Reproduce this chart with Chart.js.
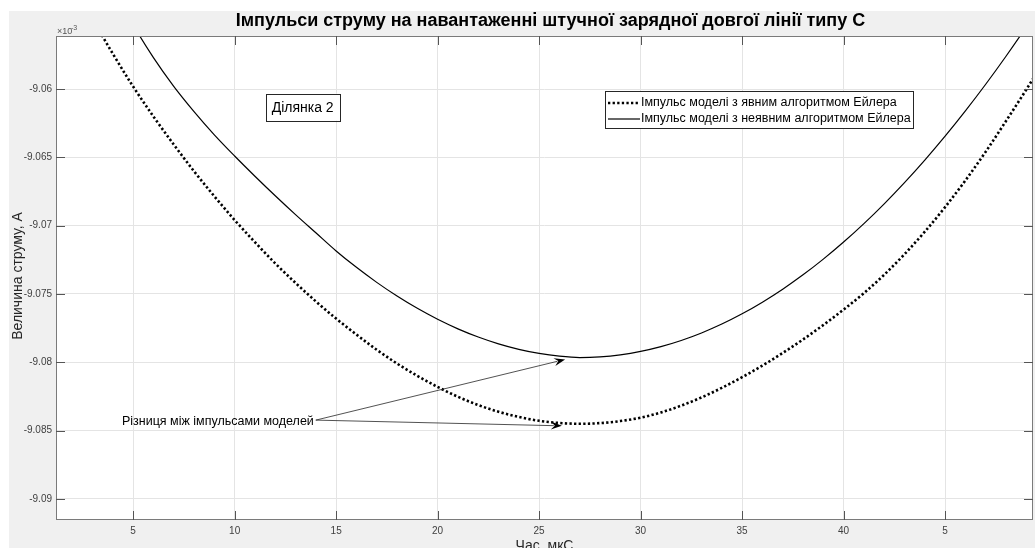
<!DOCTYPE html>
<html><head><meta charset="utf-8">
<script src="https://cdn.jsdelivr.net/npm/chart.js@4.4.1/dist/chart.umd.min.js"></script>
<style>html,body{margin:0;padding:0;background:#fff;overflow:hidden}#wrap{width:1035px;height:548px;position:relative}</style>
</head><body><div id="wrap"><canvas id="c" width="1035" height="548"></canvas></div>
<script>
const chartTitle = 'Імпульси струму на навантаженні штучної зарядної довгої лінії типу С';
const xAxisTitle = 'Час, мкС';
const yAxisTitle = 'Величина струму, А';
const yExponent = '-3';
const seriesNames = ['Імпульс моделі з явним алгоритмом Ейлера', 'Імпульс моделі з неявним алгоритмом Ейлера'];
const sectionLabel = 'Ділянка 2';
const diffLabel = 'Різниця між імпульсами моделей';

const timeUs = [3,4,5,6,7,8,9,10,11,12,13,14,15,16,17,18,19,20,21,22,23,24,25,26,27,28,29,30,31,32,33,34,35,36,37,38,39,40,41,42,43,44,45,46,47,48,49,50];
const explicitEuler = [-9.05489,-9.05742,-9.05982,-9.06201,-9.06406,-9.06602,-9.06785,-9.06959,-9.07121,-9.07276,-9.07419,-9.07554,-9.0768,-9.07797,-9.07908,-9.08009,-9.08099,-9.0818,-9.08252,-9.08313,-9.08362,-9.084,-9.08428,-9.08444,-9.0845,-9.08445,-9.0843,-9.08405,-9.08367,-9.08317,-9.08257,-9.08187,-9.08109,-9.08024,-9.07932,-9.07833,-9.07727,-9.07614,-9.07494,-9.07359,-9.07209,-9.07044,-9.06864,-9.06669,-9.06459,-9.06234,-9.06004,-9.05764];
const implicitEuler = [-9.0493,-9.0525,-9.0553,-9.0577,-9.0598,-9.06165,-9.06335,-9.0649,-9.06638,-9.06781,-9.06919,-9.07052,-9.07185,-9.07305,-9.07415,-9.07515,-9.07605,-9.07685,-9.07755,-9.07815,-9.07865,-9.07905,-9.07935,-9.07955,-9.07965,-9.0796,-9.07945,-9.0792,-9.07885,-9.0784,-9.07785,-9.0772,-9.07645,-9.0756,-9.07465,-9.0736,-9.07245,-9.0712,-9.06985,-9.0684,-9.06685,-9.0652,-9.06345,-9.0616,-9.05965,-9.0576,-9.05545,-9.0532];

const xTickValues = [5,10,15,20,25,30,35,40,45];
const xTickLabels = ['5','10','15','20','25','30','35','40','5'];
const yTickValues = [-9.09,-9.085,-9.08,-9.075,-9.07,-9.065,-9.06];
const yTickLabels = ['-9.09','-9.085','-9.08','-9.075','-9.07','-9.065','-9.06'];
const xRange = [1.2, 49.33];
const yRange = [-9.09154, -9.05612];

// annotation anchors (data coordinates)
const sectionLabelAt = [13.35, -9.06133];
const diffTextEnd = [13.95, -9.08423];
const arrowTargets = [[26.28, -9.07979], [26.12, -9.08465]];

const FONT = '"Liberation Sans", Arial, Helvetica, sans-serif';
const AX = '#262626';

function pts(xs, ys){ return xs.map((x,i)=>({x:x, y:ys[i]})); }

const decor = {
  id:'decor',
  beforeDraw(chart){
    const c = chart.ctx, ca = chart.chartArea;
    c.save();
    c.fillStyle = '#ffffff'; c.fillRect(0,0,chart.width,chart.height);
    c.fillStyle = '#f0f0f0'; c.fillRect(9,11,chart.width-9,chart.height-11);
    c.fillStyle = '#ffffff'; c.fillRect(ca.left,ca.top,ca.right-ca.left,ca.bottom-ca.top);
    c.restore();
  },
  afterDraw(chart){
    const c = chart.ctx, ca = chart.chartArea;
    const xs = chart.scales.x, ys = chart.scales.y;
    c.save();
    c.strokeStyle = '#7a7a7a'; c.lineWidth = 1;
    c.strokeRect(ca.left+0.5, ca.top+0.5, ca.right-ca.left-1, ca.bottom-ca.top-1);
    c.strokeStyle = '#555'; c.lineWidth = 1;
    c.beginPath();
    xTickValues.forEach(v=>{
      const px = Math.round(xs.getPixelForValue(v))+0.5;
      c.moveTo(px, ca.bottom); c.lineTo(px, ca.bottom-9);
      c.moveTo(px, ca.top); c.lineTo(px, ca.top+9);
    });
    yTickValues.forEach(v=>{
      const py = Math.round(ys.getPixelForValue(v))+0.5;
      c.moveTo(ca.left, py); c.lineTo(ca.left+9, py);
      c.moveTo(ca.right, py); c.lineTo(ca.right-9, py);
    });
    c.stroke();

    c.fillStyle = '#000';
    c.font = 'bold 18px ' + FONT;
    c.textAlign = 'center'; c.textBaseline = 'middle';
    c.fillText(chartTitle, (ca.left+ca.right)/2 + 6, 21);
    c.fillStyle = AX;
    c.font = '14px ' + FONT;
    c.fillText(xAxisTitle, (ca.left+ca.right)/2, 546);
    c.save();
    c.translate(18, (ca.top+ca.bottom)/2 - 2);
    c.rotate(-Math.PI/2);
    c.fillText(yAxisTitle, 0, 0);
    c.restore();
    c.font = '9px ' + FONT;
    c.textAlign = 'left'; c.textBaseline = 'alphabetic';
    c.fillStyle = '#555';
    c.fillText('\u00d710', ca.left+1, ca.top-2);
    c.font = '7px ' + FONT;
    c.fillText(yExponent, ca.left+15, ca.top-6);

    c.font = '14px ' + FONT;
    c.textAlign = 'center'; c.textBaseline = 'middle';
    const sx = xs.getPixelForValue(sectionLabelAt[0]), sy = ys.getPixelForValue(sectionLabelAt[1]);
    const sw = c.measureText(sectionLabel).width + 12;
    c.fillStyle = '#fff'; c.fillRect(sx-sw/2, sy-13.5, sw, 27);
    c.strokeStyle = '#262626'; c.lineWidth = 1;
    c.strokeRect(Math.round(sx-sw/2)+0.5, Math.round(sy-13.5)+0.5, Math.round(sw), 27);
    c.fillStyle = '#000';
    c.fillText(sectionLabel, sx, sy+1);

    const lx = ca.right - 428, ly = ca.top + 55, lw = 308, lh = 37;
    c.fillStyle = '#fff'; c.fillRect(lx, ly, lw, lh);
    c.strokeStyle = '#262626'; c.lineWidth = 1;
    c.strokeRect(lx+0.5, ly+0.5, lw, lh);
    c.font = '12.5px ' + FONT;
    c.textAlign = 'left'; c.textBaseline = 'middle';
    c.fillStyle = '#000';
    const rows = [ly+12, ly+28];
    c.strokeStyle = '#000'; c.lineWidth = 2.5; c.setLineDash([2.3,2.3]);
    c.beginPath(); c.moveTo(lx+3, rows[0]); c.lineTo(lx+35, rows[0]); c.stroke();
    c.setLineDash([]); c.lineWidth = 1.2;
    c.beginPath(); c.moveTo(lx+3, rows[1]); c.lineTo(lx+35, rows[1]); c.stroke();
    c.fillText(seriesNames[0], lx+36, rows[0]);
    c.fillText(seriesNames[1], lx+36, rows[1]);

    const tx = xs.getPixelForValue(diffTextEnd[0]), ty = ys.getPixelForValue(diffTextEnd[1]);
    c.font = '12.5px ' + FONT;
    c.textAlign = 'right'; c.textBaseline = 'middle';
    c.fillStyle = '#000';
    c.fillText(diffLabel, tx-1, ty+1);
    arrowTargets.forEach(t=>{
      const hx = xs.getPixelForValue(t[0]), hy = ys.getPixelForValue(t[1]);
      const ang = Math.atan2(hy-ty, hx-tx);
      const L = 11, W = 4;
      const bx = hx - L*Math.cos(ang), by = hy - L*Math.sin(ang);
      c.strokeStyle = '#262626'; c.lineWidth = 0.8;
      c.beginPath(); c.moveTo(tx+1, ty); c.lineTo(bx+3*Math.cos(ang), by+3*Math.sin(ang)); c.stroke();
      c.fillStyle = '#000';
      c.beginPath();
      c.moveTo(hx, hy);
      c.lineTo(bx - W*Math.sin(ang), by + W*Math.cos(ang));
      c.lineTo(bx + 4*Math.cos(ang), by + 4*Math.sin(ang));
      c.lineTo(bx + W*Math.sin(ang), by - W*Math.cos(ang));
      c.closePath(); c.fill();
    });
    c.restore();
  }
};

new Chart(document.getElementById('c'), {
  type:'line',
  data:{
    datasets:[
      {label:seriesNames[0], data:pts(timeUs, explicitEuler), borderColor:'#000', borderWidth:2.6, borderDash:[2.3,2.3], pointRadius:0, cubicInterpolationMode:'monotone', clip:0, fill:false},
      {label:seriesNames[1], data:pts(timeUs, implicitEuler), borderColor:'#000', borderWidth:1.2, pointRadius:0, cubicInterpolationMode:'monotone', clip:0, fill:false}
    ]
  },
  options:{
    responsive:false, animation:false, devicePixelRatio:1,
    layout:{padding:{left:0, top:36, right:2, bottom:0}},
    plugins:{legend:{display:false}, title:{display:false}, tooltip:{enabled:false}},
    scales:{
      x:{type:'linear', min:xRange[0], max:xRange[1],
        afterBuildTicks(s){ s.ticks = xTickValues.map(v=>({value:v})); },
        afterFit(s){ s.height = 28; },
        grid:{color:'#e4e4e4', drawTicks:false, lineWidth:1},
        border:{display:false},
        ticks:{padding:5, maxRotation:0, autoSkip:false, color:'#404040', font:{family:FONT, size:10},
          callback(v, i){ return xTickLabels[i]; }}
      },
      y:{type:'linear', min:yRange[0], max:yRange[1],
        afterBuildTicks(s){ s.ticks = yTickValues.map(v=>({value:v})); },
        afterFit(s){ s.width = 56; },
        grid:{color:'#e4e4e4', drawTicks:false, lineWidth:1},
        border:{display:false},
        ticks:{padding:4, autoSkip:false, color:'#404040', font:{family:FONT, size:10},
          callback(v, i){ return yTickLabels[i]; }}
      }
    }
  },
  plugins:[decor]
});
</script></body></html>
